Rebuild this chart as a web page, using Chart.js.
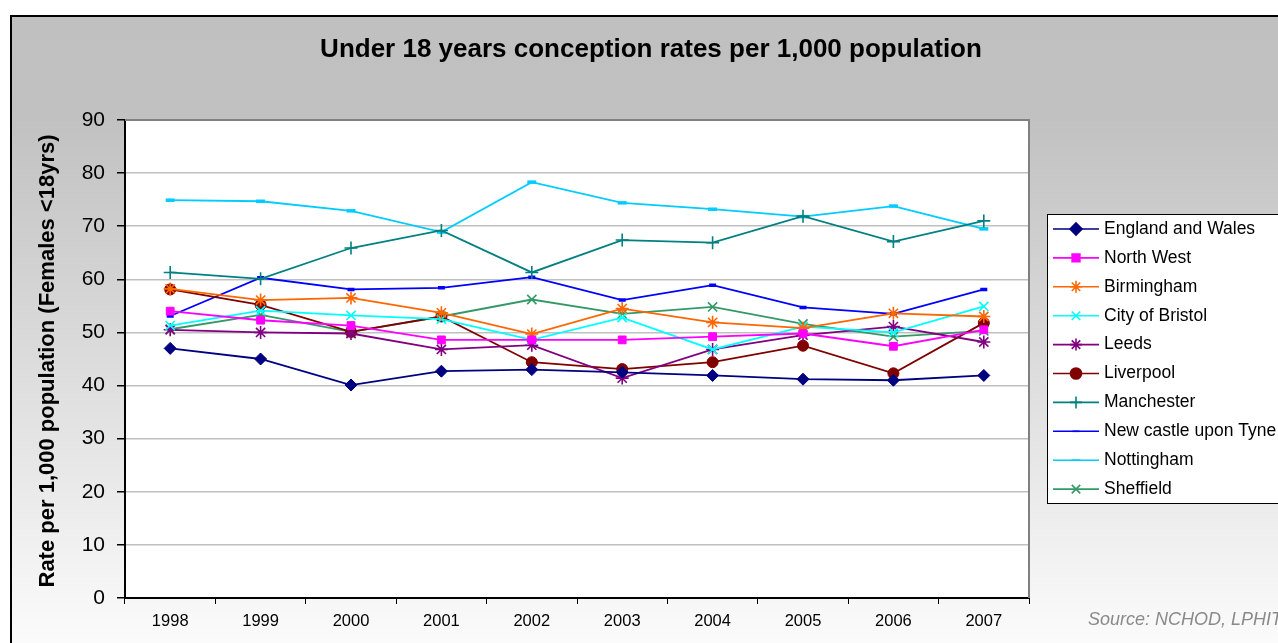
<!DOCTYPE html>
<html>
<head>
<meta charset="utf-8">
<style>
  html, body { margin: 0; padding: 0; background: #fff; overflow: hidden; }
  #wrap { width: 1278px; height: 643px; }
</style>
<script src="https://cdn.jsdelivr.net/npm/chart.js@4"></script>
</head>
<body>
<div id="wrap"><canvas id="chart" width="1278" height="643"></canvas></div>
<script>
const FONT = "'Liberation Sans', Arial, Helvetica, sans-serif";

const years = ['1998', '1999', '2000', '2001', '2002', '2003', '2004', '2005', '2006', '2007'];

const englandWales = [47.0, 45.0, 40.1, 42.7, 43.0, 42.5, 41.9, 41.2, 41.0, 41.9];
const northWest    = [54.0, 52.3, 51.3, 48.6, 48.6, 48.6, 49.2, 49.8, 47.4, 50.5];
const birmingham   = [58.2, 56.1, 56.5, 53.7, 49.7, 54.5, 51.9, 50.8, 53.6, 53.0];
const bristol      = [51.3, 54.1, 53.2, 52.5, 48.6, 52.8, 46.8, 51.1, 50.0, 54.9];
const leeds        = [50.5, 50.0, 49.8, 46.8, 47.6, 41.4, 46.8, 49.5, 51.1, 48.2];
const liverpool    = [58.1, 55.2, 50.1, 53.0, 44.4, 43.1, 44.4, 47.5, 42.3, 51.8];
const manchester   = [61.3, 60.1, 65.9, 69.2, 61.3, 67.4, 66.9, 71.9, 67.1, 71.0];
const newcastle    = [53.1, 60.3, 58.1, 58.4, 60.4, 56.1, 58.9, 54.7, 53.5, 58.1];
const nottingham   = [74.9, 74.7, 72.9, 68.9, 78.3, 74.4, 73.2, 71.8, 73.8, 69.5];
const sheffield    = [50.6, 53.3, 50.1, 53.0, 56.2, 53.5, 54.8, 51.6, 49.2, 50.3];

const yTicks = [0, 10, 20, 30, 40, 50, 60, 70, 80, 90];

function series(label, data, color, pointStyle, radius, pointBorderWidth) {
  return {
    label, data,
    borderColor: color,
    backgroundColor: color,
    pointBackgroundColor: color,
    pointBorderColor: color,
    pointStyle,
    pointRadius: radius,
    pointBorderWidth: pointBorderWidth,
    borderWidth: 1.8,
    tension: 0,
    fill: false
  };
}

const datasets = [
  series('England and Wales', englandWales, '#000080', 'rectRot', 6, 1),
  series('North West', northWest, '#ff00ff', 'rect', 5.5, 1),
  series('Birmingham', birmingham, '#ff6600', 'star', 6.5, 1.6),
  series('City of Bristol', bristol, '#00ffff', 'crossRot', 6.5, 1.6),
  series('Leeds', leeds, '#800080', 'star', 6.5, 1.6),
  series('Liverpool', liverpool, '#800000', 'circle', 5.5, 1),
  series('Manchester', manchester, '#008080', 'cross', 6.5, 1.6),
  series('New castle upon Tyne', newcastle, '#0000ff', 'line', 3.5, 3.5),
  series('Nottingham', nottingham, '#00ccff', 'line', 4.5, 3.5),
  series('Sheffield', sheffield, '#339966', 'crossRot', 6.5, 1.6)
];

// Frame, gradient background and white plot area
const backdropPlugin = {
  id: 'backdrop',
  beforeDraw(chart) {
    const ctx = chart.ctx;
    const area = chart.chartArea;
    ctx.save();
    ctx.fillStyle = '#ffffff';
    ctx.fillRect(0, 0, chart.width, chart.height);
    const g = ctx.createLinearGradient(0, 16, 0, 643);
    g.addColorStop(0, '#c0c0c0');
    g.addColorStop(0.16, '#c1c1c1');
    g.addColorStop(1, '#fbfbfb');
    ctx.fillStyle = g;
    ctx.fillRect(11, 16, 1300, 700);
    ctx.lineWidth = 2;
    ctx.strokeStyle = '#000000';
    ctx.strokeRect(11, 16, 1300, 700);
    ctx.fillStyle = '#ffffff';
    ctx.fillRect(area.left, area.top, area.right - area.left, area.bottom - area.top);
    ctx.restore();
  },
  afterDatasetsDraw(chart) {
    const ctx = chart.ctx;
    const area = chart.chartArea;
    ctx.save();
    ctx.strokeStyle = '#808080';
    ctx.lineWidth = 2;
    ctx.beginPath();
    ctx.moveTo(area.left, area.top);
    ctx.lineTo(area.right, area.top);
    ctx.lineTo(area.right, area.bottom);
    ctx.stroke();
    ctx.restore();
  }
};

// Titles and source note
const textPlugin = {
  id: 'texts',
  afterDraw(chart) {
    const ctx = chart.ctx;
    const area = chart.chartArea;
    ctx.save();
    ctx.fillStyle = '#000';
    ctx.font = 'bold 26px ' + FONT;
    ctx.textAlign = 'center';
    ctx.textBaseline = 'middle';
    ctx.fillText('Under 18 years conception rates per 1,000 population', 651, 50);

    ctx.save();
    ctx.translate(48, (area.top + area.bottom) / 2 + 2);
    ctx.rotate(-Math.PI / 2);
    ctx.font = 'bold 22px ' + FONT;
    ctx.fillText('Rate per 1,000 population (Females <18yrs)', 0, 0);
    ctx.restore();

    ctx.font = 'italic 18px ' + FONT;
    ctx.fillStyle = '#8a8a8a';
    ctx.textAlign = 'left';
    ctx.fillText('Source: NCHOD, LPHIT', 1088, 620);
    ctx.restore();
  }
};

// Legend drawn with a line sample and the marker, like the original
const legendPlugin = {
  id: 'lineLegend',
  afterDraw(chart) {
    const ctx = chart.ctx;
    const x0 = 1047, y0 = 214, w = 260, h = 289;
    ctx.save();
    ctx.fillStyle = '#ffffff';
    ctx.fillRect(x0, y0, w, h);
    ctx.strokeStyle = '#000';
    ctx.lineWidth = 1;
    ctx.strokeRect(x0 + 0.5, y0 + 0.5, w, h);
    chart.data.datasets.forEach((ds, i) => {
      const y = 229 + i * 28.9;
      ctx.strokeStyle = ds.borderColor;
      ctx.fillStyle = ds.borderColor;
      ctx.lineWidth = 1.6;
      ctx.beginPath();
      ctx.moveTo(1053, y);
      ctx.lineTo(1099, y);
      ctx.stroke();
      Chart.helpers.drawPoint(ctx, {
        pointStyle: ds.pointStyle,
        radius: Math.min(ds.pointRadius, 6),
        borderWidth: ds.pointBorderWidth,
        rotation: 0
      }, 1076, y);
      ctx.fillStyle = '#000';
      ctx.font = '17.5px ' + FONT;
      ctx.textAlign = 'left';
      ctx.textBaseline = 'middle';
      ctx.fillText(ds.label, 1104, y);
    });
    ctx.restore();
  }
};

new Chart(document.getElementById('chart'), {
  type: 'line',
  data: { labels: years, datasets },
  options: {
    responsive: false,
    animation: false,
    layout: { padding: { left: 65, right: 249, top: 120, bottom: 10 } },
    scales: {
      x: {
        offset: true,
        grid: {
          offset: true,
          drawOnChartArea: false,
          drawTicks: true,
          tickLength: 6,
          tickColor: '#000'
        },
        border: { color: '#000', width: 2 },
        ticks: {
          color: '#000',
          font: { family: FONT, size: 16.5 },
          padding: 8,
          maxRotation: 0,
          autoSkip: false
        },
        afterFit(scale) { scale.height = 35; }
      },
      y: {
        min: 0,
        max: 90,
        afterBuildTicks(scale) { scale.ticks = yTicks.map(v => ({ value: v })); },
        grid: {
          color: '#c0c0c0',
          lineWidth: 1.5,
          drawTicks: true,
          tickLength: 8,
          tickColor: '#000'
        },
        border: { color: '#000', width: 2 },
        ticks: {
          color: '#000',
          font: { family: FONT, size: 21 },
          padding: 12
        },
        afterFit(scale) { scale.width = 60; }
      }
    },
    plugins: {
      legend: { display: false },
      title: { display: false },
      tooltip: { enabled: false }
    }
  },
  plugins: [backdropPlugin, textPlugin, legendPlugin]
});
</script>
</body>
</html>
